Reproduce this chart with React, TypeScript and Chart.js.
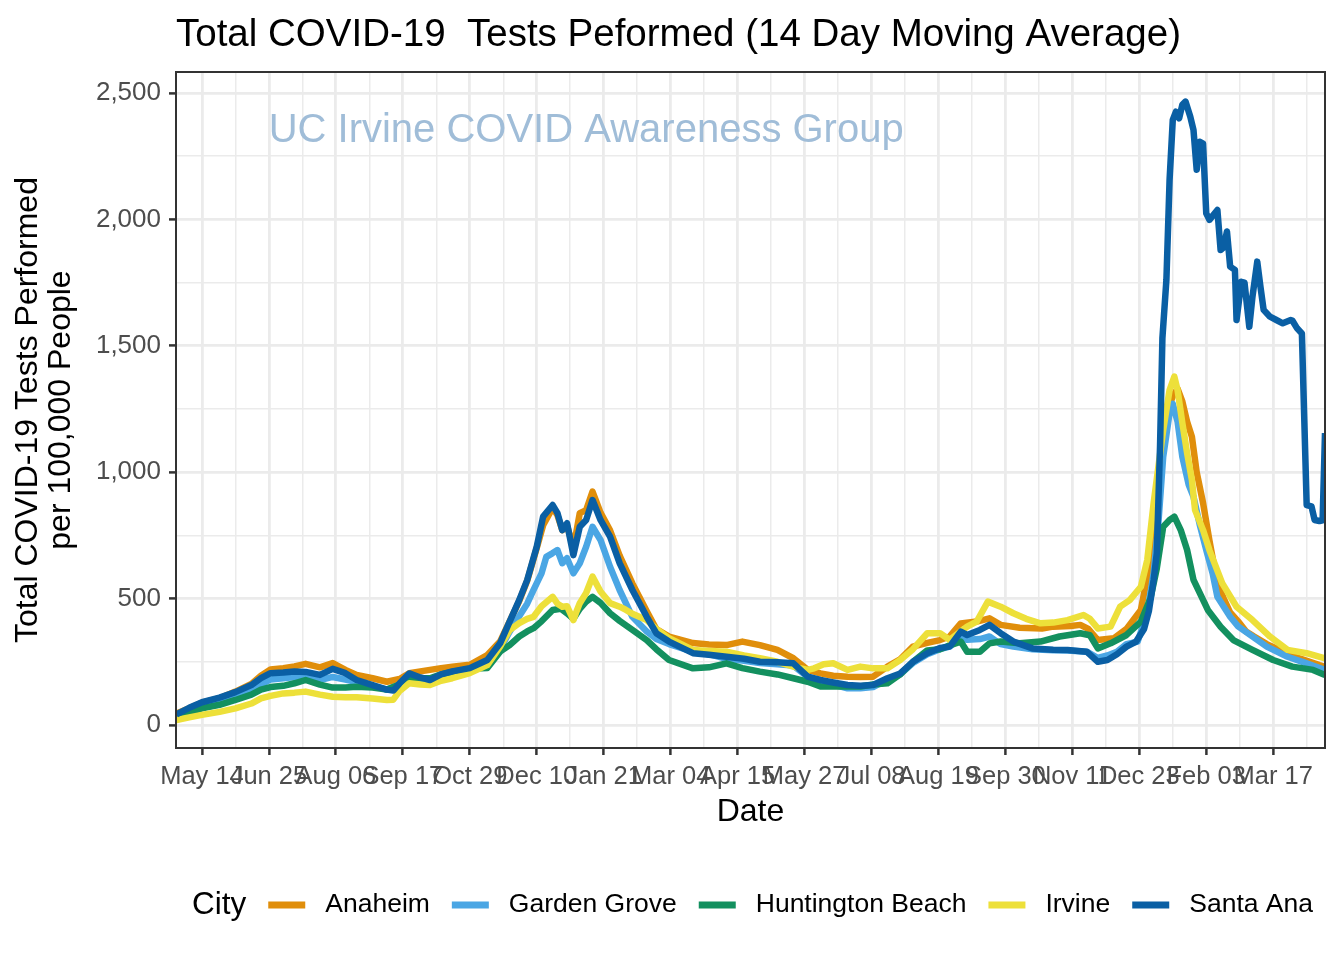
import React, { useEffect, useRef } from "react";
import { Chart, registerables } from "chart.js";

Chart.register(...registerables);

// ---------- data ----------
// x values are days counted from 14 May 2020
const cityNames = ["Anaheim", "Garden Grove", "Huntington Beach", "Irvine", "Santa Ana"];
const cityColors = ["#E08E0B", "#4AA6E4", "#13905F", "#EDE03A", "#0A5FA4"];

const anaheimDays = [-16,-8,0,11,21,31,37,43,51,58,65,74,82,90,97,107,116,124,130,137,143,150,157,168,179,187,193,199,204,210,214,220,223,226,229,233,237,241,245,250,256,262,270,279,285,293,308,318,329,339,350,361,371,380,388,396,405,413,421,430,438,446,455,463,469,476,486,494,501,513,527,534,545,551,556,562,572,580,589,593,597,600,603,606,609,612,615,618,621,624,628,632,637,641,645,650,655,660,668,675,681,688,695,701,704.5];
const anaheimValues = [45,66,88,106,132,162,195,220,225,232,242,228,245,218,198,185,171,182,205,212,218,225,230,238,277,330,410,490,570,700,790,860,830,771,790,700,838,850,923,840,770,670,560,450,380,350,324,318,316,330,316,297,264,218,204,195,191,190,191,231,260,310,325,336,350,402,409,422,396,385,382,389,392,396,380,336,343,380,455,587,700,880,1100,1250,1300,1330,1280,1200,1140,1000,878,730,560,500,445,410,370,350,320,300,277,265,250,237,230];

const gardenGroveDays = [-16,-8,0,11,21,31,37,43,51,58,65,74,82,90,97,107,116,124,130,137,143,150,157,168,179,187,193,199,204,208,213,216,220,223,226,229,233,237,241,245,250,256,262,270,279,285,293,308,318,329,339,350,361,371,380,388,396,405,413,421,430,438,446,455,463,469,476,480,488,494,501,509,521,534,543,555,562,568,574,580,587,593,597,600,603,607,609,612,615,619,622,626,630,634,637,645,650,656,668,681,693,704.5];
const gardenGroveValues = [38,58,78,92,112,138,160,180,185,190,195,178,190,180,170,155,140,160,190,180,172,185,200,212,240,300,369,430,480,534,600,665,680,692,640,660,600,640,705,784,732,626,534,428,370,340,320,290,280,262,255,245,240,235,190,175,160,145,145,150,180,200,245,280,300,310,345,337,340,350,320,310,300,296,295,290,265,275,290,320,330,445,600,800,1061,1234,1270,1200,1061,950,903,790,692,600,507,428,390,363,310,270,244,218];

const huntingtonDays = [-16,-8,0,11,21,31,37,43,51,58,65,74,82,90,97,107,116,124,130,137,143,150,157,168,179,187,193,199,204,208,213,220,225,229,233,237,241,245,250,256,262,270,279,285,293,308,318,329,339,350,361,371,380,388,405,413,421,430,438,446,455,463,469,476,480,488,494,501,513,526,538,551,557,562,570,580,589,595,599,603,607,610,614,618,622,631,639,647,659,672,684,697,704.5];
const huntingtonValues = [33,50,66,80,99,120,140,150,155,165,178,160,148,148,151,148,140,160,185,185,185,200,210,222,225,290,316,350,370,383,410,455,460,442,420,460,488,507,483,442,412,376,336,300,257,224,228,244,225,211,200,185,171,152,152,152,160,165,200,250,295,300,315,330,290,290,323,330,323,330,350,363,355,303,323,356,409,500,620,784,811,824,771,692,574,455,389,336,297,257,231,218,198];

const irvineDays = [-16,-8,0,11,21,31,37,43,51,58,65,74,82,90,97,107,116,120,124,130,137,143,150,157,168,179,187,193,199,204,208,213,220,223,226,229,233,235,237,241,245,250,256,262,266,270,279,285,293,308,318,329,340,350,361,371,380,384,390,396,405,413,421,430,438,446,455,463,469,480,486,493,501,509,517,526,534,543,553,557,562,570,576,582,589,593,597,603,607,610,612,615,618,621,623,628,632,640,649,659,670,681,693,704.5];
const irvineValues = [20,30,40,52,66,85,105,115,125,128,132,120,112,110,110,105,99,100,135,165,160,158,175,185,205,237,310,375,403,420,428,470,507,480,468,470,415,450,482,522,587,528,482,468,455,440,415,380,343,297,293,290,275,264,250,231,218,224,240,244,218,231,224,224,257,300,363,363,337,389,409,488,468,442,420,402,405,415,435,420,382,389,468,494,547,653,878,1167,1325,1378,1325,1195,1076,969,850,771,692,561,468,415,350,297,284,264];

const santaAnaDays = [-16,-8,0,11,21,31,37,43,51,58,65,74,82,90,97,107,116,120,124,130,137,143,150,157,168,179,187,193,199,204,210,214,220,223,226,229,233,237,241,245,250,256,262,270,279,285,293,308,318,329,340,350,361,371,380,388,396,405,413,421,430,438,446,455,463,469,476,480,488,494,501,509,521,534,543,555,562,568,574,580,586,591,594,597,599,601,602.5,605,607,609,611,613,615,617,620,622,624,626,628,630,632,637,639,641,643,645,648,649,652,654,657,659,662,664,666,670,674,678,683,684,687,690,693,696,698,701,703,704.5];
const santaAnaValues = [42,68,90,108,130,158,185,205,208,212,210,198,222,205,178,158,140,136,165,204,188,178,200,212,225,257,323,409,494,573,705,824,870,838,771,798,672,784,811,890,811,745,640,534,428,363,330,284,278,270,262,250,248,244,191,178,168,158,155,158,185,204,250,284,305,310,369,356,376,396,363,330,303,298,297,290,250,257,280,310,330,380,450,574,680,1100,1530,1760,2156,2393,2426,2400,2453,2466,2406,2354,2196,2307,2300,2024,1998,2037,1879,1890,1952,1813,1800,1602,1753,1750,1575,1694,1833,1734,1642,1615,1602,1589,1602,1600,1569,1549,870,865,811,807,810,1155];

const cityDays = [anaheimDays, gardenGroveDays, huntingtonDays, irvineDays, santaAnaDays];
const cityValues = [anaheimValues, gardenGroveValues, huntingtonValues, irvineValues, santaAnaValues];

const xTickDays = [0,42,84,126,168,210,252,294,336,378,420,462,504,546,588,630,672];
const xTickLabels = ["May 14","Jun 25","Aug 06","Sep 17","Oct 29","Dec 10","Jan 21","Mar 04","Apr 15","May 27","Jul 08","Aug 19","Sep 30","Nov 11","Dec 23","Feb 03","Mar 17"];
const xMinorDays = [21,63,105,147,189,231,273,315,357,399,441,483,525,567,609,651,693];

const yTickValues = [0,500,1000,1500,2000,2500];
const yTickLabels = ["0","500","1,000","1,500","2,000","2,500"];
const yMinorValues = [250,750,1250,1750,2250];

const TITLE = "Total COVID-19  Tests Peformed (14 Day Moving Average)";
const X_TITLE = "Date";
const Y_TITLE = ["Total COVID-19 Tests Performed", "per 100,000 People"];
const LEGEND_TITLE = "City";
const WATERMARK = "UC Irvine COVID Awareness Group";
const WATERMARK_DAY = 241;
const WATERMARK_VALUE = 2350;

const FONT = '"Liberation Sans", Arial, Helvetica, sans-serif';

const isMajorX = (v: number) => xTickDays.indexOf(v) >= 0;
const isMajorY = (v: number) => yTickValues.indexOf(v) >= 0;

const decorPlugin = {
  id: "decor",
  beforeDatasetsDraw(chart: any) {
    const { ctx, scales } = chart;
    ctx.save();
    ctx.font = `40px ${FONT}`;
    ctx.fillStyle = "#A0BDD8";
    ctx.textAlign = "center";
    ctx.textBaseline = "middle";
    ctx.fillText(WATERMARK, scales.x.getPixelForValue(WATERMARK_DAY), scales.y.getPixelForValue(WATERMARK_VALUE));
    ctx.restore();
  },
  afterDraw(chart: any) {
    const { ctx, chartArea: a } = chart;
    ctx.save();
    ctx.strokeStyle = "#333333";
    ctx.lineWidth = 2;
    ctx.strokeRect(a.left, a.top, a.right - a.left, a.bottom - a.top);

    ctx.fillStyle = "#000000";
    ctx.textAlign = "left";
    ctx.textBaseline = "middle";
    ctx.font = `38.5px ${FONT}`;
    ctx.fillText(TITLE, a.left, 35);

    // legend
    const ly = 905;
    let lx = 192;
    ctx.font = `31.5px ${FONT}`;
    ctx.fillText(LEGEND_TITLE, lx, ly);
    lx += ctx.measureText(LEGEND_TITLE).width + 22;
    ctx.font = `26.5px ${FONT}`;
    chart.data.datasets.forEach((ds: any) => {
      ctx.strokeStyle = ds.borderColor;
      ctx.lineWidth = 7;
      ctx.lineCap = "butt";
      ctx.beginPath();
      ctx.moveTo(lx, ly);
      ctx.lineTo(lx + 37, ly);
      ctx.stroke();
      lx += 37 + 20;
      ctx.fillStyle = "#000000";
      ctx.fillText(ds.label, lx, ly);
      lx += ctx.measureText(ds.label).width + 22;
    });
    ctx.restore();
  },
};

export default function App() {
  const ref = useRef<HTMLCanvasElement>(null);
  useEffect(() => {
    const datasets = cityNames.map((name, i) => ({
      label: name,
      data: cityDays[i].map((d, j) => ({ x: d, y: cityValues[i][j] })),
      borderColor: cityColors[i],
      backgroundColor: cityColors[i],
      borderWidth: 6.5,
      pointRadius: 0,
      fill: false,
      order: cityNames.length - i,
    }));
    const chart = new Chart(ref.current as HTMLCanvasElement, {
      type: "line",
      data: { datasets } as any,
      options: {
        animation: false,
        responsive: false,
        devicePixelRatio: 1,
        events: [],
        layout: { padding: { top: 72, right: 19, bottom: 0, left: 0 } },
        elements: { line: { tension: 0, borderJoinStyle: "round", borderCapStyle: "butt" }, point: { radius: 0 } },
        plugins: { legend: { display: false }, title: { display: false }, tooltip: { enabled: false } },
        scales: {
          x: {
            type: "linear",
            min: -16.3,
            max: 704.5,
            afterBuildTicks: (scale: any) => {
              scale.ticks = [...xTickDays, ...xMinorDays].sort((p, q) => p - q).map((v) => ({ value: v }));
            },
            afterFit: (scale: any) => { scale.height = 212; },
            ticks: {
              autoSkip: false,
              maxRotation: 0,
              minRotation: 0,
              padding: 7,
              color: "#4D4D4D",
              font: { family: FONT, size: 25.5 },
              callback: (v: any) => {
                const k = xTickDays.indexOf(Number(v));
                return k >= 0 ? xTickLabels[k] : "";
              },
            },
            grid: {
              color: "#EBEBEB",
              lineWidth: (c: any) => (c.tick && isMajorX(c.tick.value) ? 2.8 : 1.5),
              tickColor: (c: any) => (c.tick && isMajorX(c.tick.value) ? "#333333" : "rgba(0,0,0,0)"),
              tickWidth: 2.5,
              tickLength: 7,
              drawTicks: true,
            },
            border: { display: false },
            title: { display: true, text: X_TITLE, color: "#000000", font: { family: FONT, size: 32 }, padding: { top: 0, bottom: 129 } },
          },
          y: {
            type: "linear",
            min: -91,
            max: 2583,
            afterBuildTicks: (scale: any) => {
              scale.ticks = [...yTickValues, ...yMinorValues].sort((p, q) => p - q).map((v) => ({ value: v }));
            },
            afterFit: (scale: any) => { scale.width = 176; },
            ticks: {
              padding: 8,
              color: "#4D4D4D",
              font: { family: FONT, size: 26 },
              callback: (v: any) => {
                const k = yTickValues.indexOf(Number(v));
                return k >= 0 ? yTickLabels[k] : "";
              },
            },
            grid: {
              color: "#EBEBEB",
              lineWidth: (c: any) => (c.tick && isMajorY(c.tick.value) ? 2.8 : 1.5),
              tickColor: (c: any) => (c.tick && isMajorY(c.tick.value) ? "#333333" : "rgba(0,0,0,0)"),
              tickWidth: 2.5,
              tickLength: 7,
              drawTicks: true,
            },
            border: { display: false },
            title: { display: true, text: Y_TITLE, color: "#000000", font: { family: FONT, size: 32, lineHeight: 1.03 }, padding: { top: 12, bottom: 0 } },
          },
        },
      } as any,
      plugins: [decorPlugin],
    });
    return () => chart.destroy();
  }, []);
  return (
    <div style={{ position: "absolute", left: 0, top: 0, width: 1344, height: 960, background: "#ffffff" }}>
      <canvas ref={ref} width={1344} height={960} style={{ width: 1344, height: 960, display: "block" }} />
    </div>
  );
}
